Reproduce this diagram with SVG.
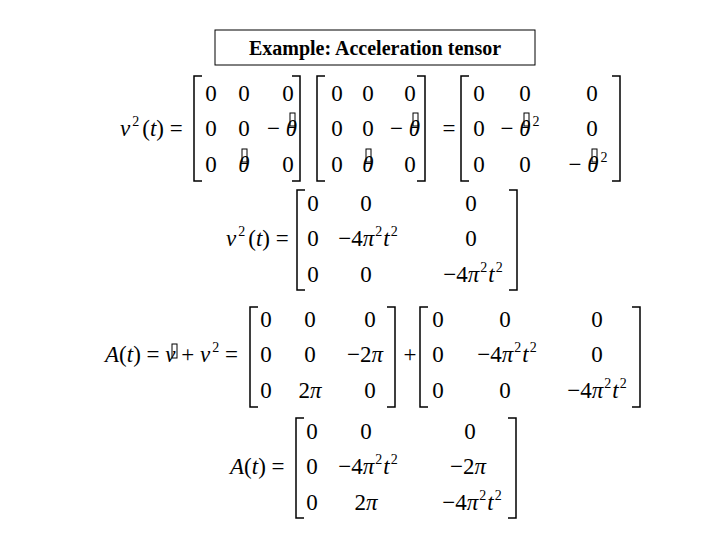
<svg xmlns="http://www.w3.org/2000/svg" width="720" height="540" viewBox="0 0 720 540">
<style>
text{font-family:"Liberation Serif","DejaVu Serif",serif;font-size:23px;fill:#000}
.c{text-anchor:middle}
.i{font-style:italic}
.s{font-size:14px}
.b{fill:none;stroke:#000;stroke-width:1.5}
.q{fill:none;stroke:#000;stroke-width:1}
</style>
<rect width="720" height="540" fill="#fff"/>
<g id="title"><rect x="215" y="30" width="320" height="35" fill="#fff" stroke="#000" stroke-width="1"/>
<text x="375" y="55" class="c" style="font-weight:bold;font-size:20px">Example: Acceleration tensor</text></g>

<g id="row1">
<text x="120" y="136"><tspan class="i">ν</tspan><tspan class="s" dx="2" dy="-10">2</tspan><tspan dx="3" dy="10">(</tspan><tspan class="i">t</tspan>) =</text>
<path class="b" d="M202,76H194V181H202M292,76H300V181H292"/>
<text x="211" y="101" class="c">0</text><text x="244" y="101" class="c">0</text><text x="288" y="101" class="c">0</text>
<text x="211" y="136" class="c">0</text><text x="244" y="136" class="c">0</text><text x="282" y="136" class="c">− <tspan class="i">θ</tspan></text>
<text x="211" y="172" class="c">0</text><text x="244" y="172" class="c i">θ</text><text x="288" y="172" class="c">0</text>
<rect class="q" x="290" y="113" width="5" height="13"/><rect class="q" x="242" y="149" width="5" height="13"/>
<path class="b" d="M325,76H317V181H325M417,76H425V181H417"/>
<text x="337" y="101" class="c">0</text><text x="368" y="101" class="c">0</text><text x="410" y="101" class="c">0</text>
<text x="337" y="136" class="c">0</text><text x="368" y="136" class="c">0</text><text x="405" y="136" class="c">− <tspan class="i">θ</tspan></text>
<text x="337" y="172" class="c">0</text><text x="368" y="172" class="c i">θ</text><text x="410" y="172" class="c">0</text>
<rect class="q" x="413" y="113" width="5" height="13"/><rect class="q" x="366" y="149" width="5" height="13"/>
<text x="449" y="136" class="c">=</text>
<path class="b" d="M469,76H461V181H469M612,76H620V181H612"/>
<text x="479" y="101" class="c">0</text><text x="525" y="101" class="c">0</text><text x="592" y="101" class="c">0</text>
<text x="479" y="136" class="c">0</text><text x="520" y="136" class="c">− <tspan class="i">θ</tspan><tspan class="s" dx="2" dy="-10">2</tspan></text><text x="592" y="136" class="c">0</text>
<text x="479" y="172" class="c">0</text><text x="525" y="172" class="c">0</text><text x="588" y="172" class="c">− <tspan class="i">θ</tspan><tspan class="s" dx="2" dy="-10">2</tspan></text>
<rect class="q" x="524" y="113" width="5" height="13"/><rect class="q" x="592" y="149" width="5" height="13"/>
</g>

<g id="row2">
<text x="226" y="246"><tspan class="i">ν</tspan><tspan class="s" dx="2" dy="-10">2</tspan><tspan dx="3" dy="10">(</tspan><tspan class="i">t</tspan>) =</text>
<path class="b" d="M305,190H297V290H305M509,190H517V290H509"/>
<text x="313" y="211" class="c">0</text><text x="366" y="211" class="c">0</text><text x="471" y="211" class="c">0</text>
<text x="313" y="246" class="c">0</text><text x="368" y="246" class="c">−4<tspan class="i">π</tspan><tspan class="s" dx="1" dy="-10">2</tspan><tspan class="i" dx="1" dy="10">t</tspan><tspan class="s" dx="1" dy="-10">2</tspan></text><text x="471" y="246" class="c">0</text>
<text x="313" y="282" class="c">0</text><text x="366" y="282" class="c">0</text><text x="473" y="282" class="c">−4<tspan class="i">π</tspan><tspan class="s" dx="1" dy="-10">2</tspan><tspan class="i" dx="1" dy="10">t</tspan><tspan class="s" dx="1" dy="-10">2</tspan></text>
</g>

<g id="row3">
<text x="105" y="362"><tspan class="i">A</tspan>(<tspan class="i">t</tspan>) = <tspan class="i">ν</tspan> + <tspan class="i">ν</tspan><tspan class="s" dx="2" dy="-10">2</tspan><tspan dy="10"> =</tspan></text>
<rect class="q" x="172" y="344" width="5" height="14"/>
<path class="b" d="M258,307H250V407H258M387,307H395V407H387"/>
<text x="266" y="327" class="c">0</text><text x="310" y="327" class="c">0</text><text x="370" y="327" class="c">0</text>
<text x="266" y="362" class="c">0</text><text x="310" y="362" class="c">0</text><text x="365" y="362" class="c">−2<tspan class="i">π</tspan></text>
<text x="266" y="398" class="c">0</text><text x="310" y="398" class="c">2<tspan class="i">π</tspan></text><text x="370" y="398" class="c">0</text>
<text x="410" y="362" class="c">+</text>
<path class="b" d="M428,307H420V407H428M632,307H640V407H632"/>
<text x="438" y="327" class="c">0</text><text x="505" y="327" class="c">0</text><text x="597" y="327" class="c">0</text>
<text x="438" y="362" class="c">0</text><text x="507" y="362" class="c">−4<tspan class="i">π</tspan><tspan class="s" dx="1" dy="-10">2</tspan><tspan class="i" dx="1" dy="10">t</tspan><tspan class="s" dx="1" dy="-10">2</tspan></text><text x="597" y="362" class="c">0</text>
<text x="438" y="398" class="c">0</text><text x="505" y="398" class="c">0</text><text x="597" y="398" class="c">−4<tspan class="i">π</tspan><tspan class="s" dx="1" dy="-10">2</tspan><tspan class="i" dx="1" dy="10">t</tspan><tspan class="s" dx="1" dy="-10">2</tspan></text>
</g>

<g id="row4">
<text x="230" y="474"><tspan class="i">A</tspan>(<tspan class="i">t</tspan>) =</text>
<path class="b" d="M304,418H296V518H304M508,418H516V518H508"/>
<text x="312" y="439" class="c">0</text><text x="366" y="439" class="c">0</text><text x="470" y="439" class="c">0</text>
<text x="312" y="474" class="c">0</text><text x="368" y="474" class="c">−4<tspan class="i">π</tspan><tspan class="s" dx="1" dy="-10">2</tspan><tspan class="i" dx="1" dy="10">t</tspan><tspan class="s" dx="1" dy="-10">2</tspan></text><text x="468" y="474" class="c">−2<tspan class="i">π</tspan></text>
<text x="312" y="510" class="c">0</text><text x="366" y="510" class="c">2<tspan class="i">π</tspan></text><text x="472" y="510" class="c">−4<tspan class="i">π</tspan><tspan class="s" dx="1" dy="-10">2</tspan><tspan class="i" dx="1" dy="10">t</tspan><tspan class="s" dx="1" dy="-10">2</tspan></text>
</g>
</svg>
